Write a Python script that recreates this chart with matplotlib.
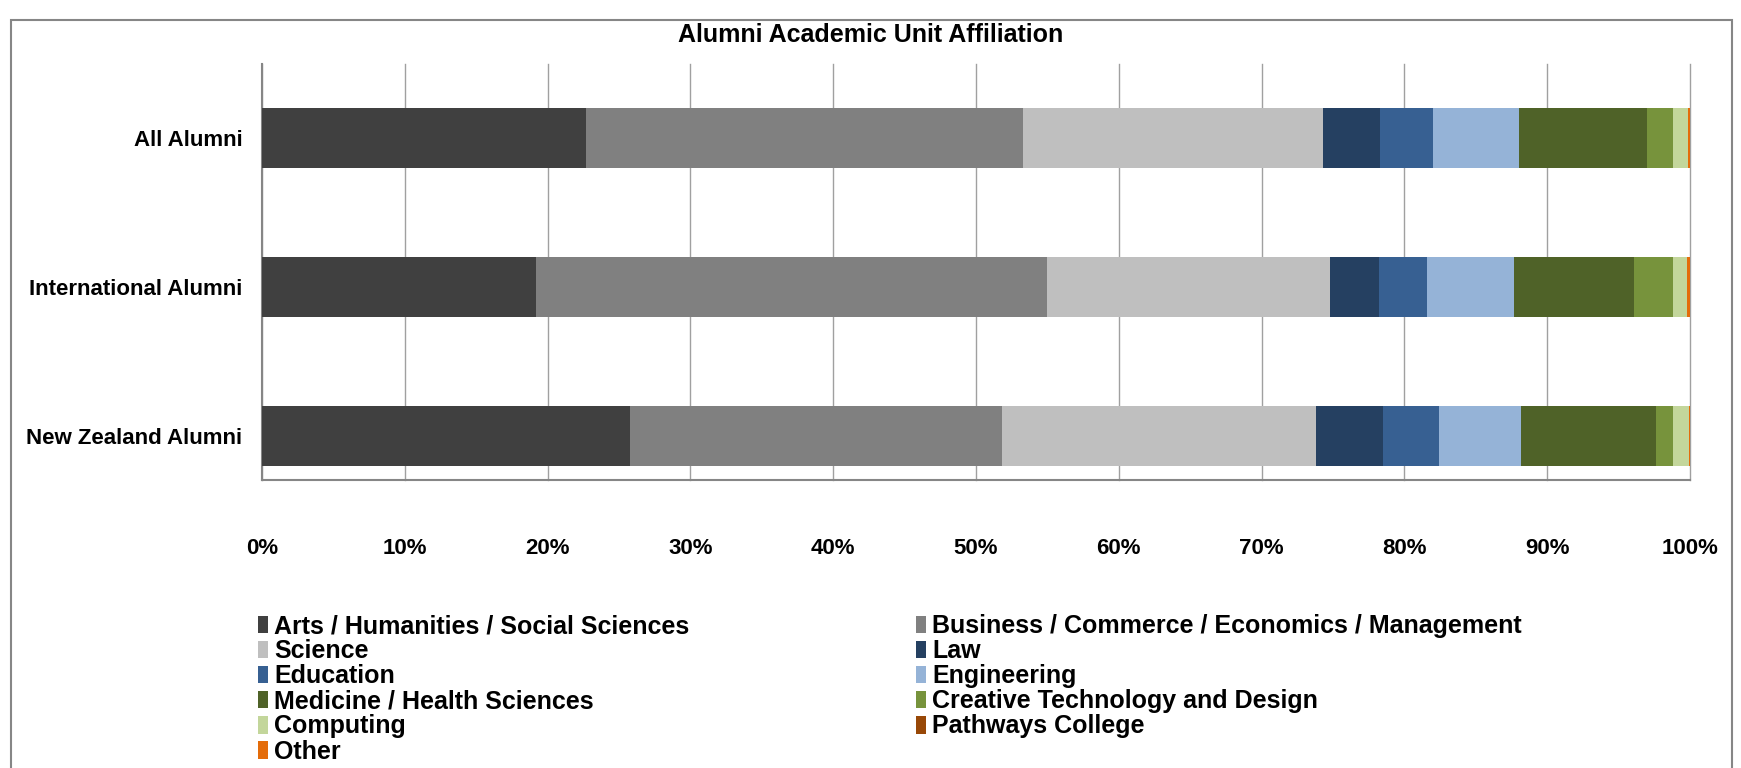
import matplotlib
matplotlib.use("Agg")
import matplotlib.pyplot as plt
from matplotlib.patches import Rectangle
import numpy as np

plt.rcParams.update({
    "font.family": ["Liberation Sans", "DejaVu Sans"],
    "font.weight": "bold",
})

groups = ["New Zealand Alumni", "International Alumni", "All Alumni"]
units = [
    "Arts / Humanities / Social Sciences",
    "Business / Commerce / Economics / Management",
    "Science",
    "Law",
    "Education",
    "Engineering",
    "Medicine / Health Sciences",
    "Creative Technology and Design",
    "Computing",
    "Pathways College",
    "Other",
]
colors = ["#404040", "#808080", "#BFBFBF", "#254061", "#376092", "#95B3D7",
          "#4F6228", "#77933C", "#C3D69B", "#984807", "#E46C0A"]

# share (%) per unit, order: NZ, International, All
arts = [25.8, 19.2, 22.7]
business = [26.05, 35.8, 30.6]
science = [21.95, 19.8, 21.0]
law = [4.7, 3.4, 4.0]
education = [3.9, 3.4, 3.7]
engineering = [5.8, 6.1, 6.0]
medicine = [9.4, 8.4, 9.0]
creative = [1.2, 2.7, 1.8]
computing = [1.15, 1.0, 1.05]
pathways = [0.0, 0.0, 0.0]
other = [0.05, 0.2, 0.15]

series = [arts, business, science, law, education, engineering,
          medicine, creative, computing, pathways, other]

fig = plt.figure(figsize=(17.41, 7.68), dpi=100)
fig.patches.append(Rectangle((11 / 1741, -0.1), 1721 / 1741, 1.1 - 20 / 768,
                             transform=fig.transFigure, fill=False,
                             edgecolor="#868686", linewidth=1.5))

ax = fig.add_axes([262 / 1741, 1 - 480 / 768, 1428 / 1741, 416 / 768])
y = np.arange(len(groups))
left = np.zeros(len(groups))
handles = []
for vals, col, name in zip(series, colors, units):
    vals = np.array(vals) / 100
    h = ax.barh(y, vals, left=left, height=0.40, color=col, label=name,
                edgecolor="none", zorder=3)
    handles.append(h)
    left += vals

ticks = np.arange(0, 1.01, 0.1)
ax.set_xlim(0, 1)
ax.set_ylim(-0.295, 2.497)
ax.set_xticks(ticks)
ax.set_xticklabels([f"{int(round(t * 100))}%" for t in ticks])
ax.set_yticks(y)
ax.set_yticklabels(groups)
ax.tick_params(axis="x", length=0, pad=42, labelsize=16)
ax.tick_params(axis="y", length=0, pad=14, labelsize=16)
ax.grid(axis="x", color="#A0A0A0", linewidth=1, zorder=0)
for gl in ax.get_xgridlines():
    gl.set_clip_on(False)
for s in ("top", "right"):
    ax.spines[s].set_visible(False)
for s in ("left", "bottom"):
    ax.spines[s].set_color("#868686")
    ax.spines[s].set_linewidth(1.5)

fig.text(0.5, 1 - 35 / 768, "Alumni Academic Unit Affiliation",
         ha="center", va="center", fontsize=18, fontweight="bold")

# legend fills column-wise, so interleave to read row-wise
order = [0, 2, 4, 6, 8, 10, 1, 3, 5, 7, 9]
fig.legend([handles[i] for i in order], [units[i] for i in order],
           ncol=2, loc="upper left", bbox_to_anchor=(258 / 1741, 1 - 614 / 768),
           frameon=False, fontsize=18, handlelength=0.4, handleheight=0.7,
           handletextpad=0.25, labelspacing=0.045, columnspacing=9.05,
           borderpad=0, borderaxespad=0)

fig.savefig("out.png", dpi=100)
